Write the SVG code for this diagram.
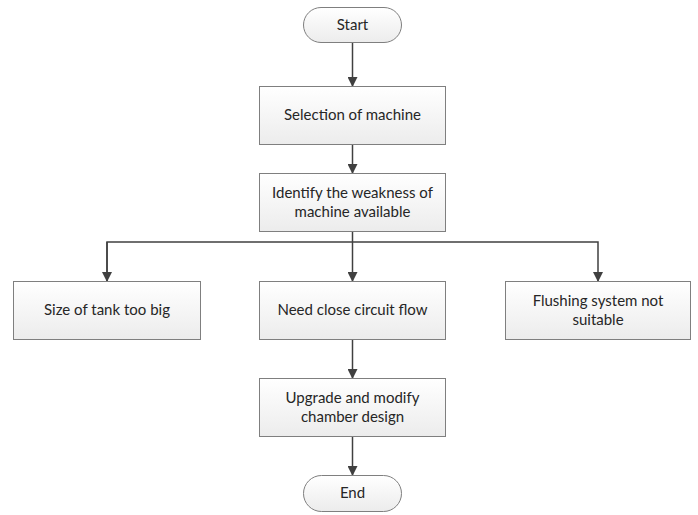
<svg xmlns="http://www.w3.org/2000/svg" width="698" height="515" viewBox="0 0 698 515">
<defs>
<linearGradient id="g" x1="0" y1="0" x2="0" y2="1">
<stop offset="0" stop-color="#ffffff"/>
<stop offset="1" stop-color="#ececec"/>
</linearGradient>
<marker id="ah" markerWidth="10" markerHeight="10" refX="9" refY="5" orient="auto" markerUnits="userSpaceOnUse">
<path d="M0,0 L10,5 L0,10 z" fill="#404040"/>
</marker>
<style>
.box{fill:url(#g);stroke:#7f7f7f;stroke-width:1}
.t{font-family:Lato,"Liberation Sans",sans-serif;font-size:15px;fill:#262626;text-anchor:middle}
.c{fill:none;stroke:#404040;stroke-width:1.5}
</style>
</defs>
<rect width="698" height="515" fill="#ffffff"/>
<g id="connectors">
<path class="c" d="M352.5,43 V86" marker-end="url(#ah)"/>
<path class="c" d="M352.5,144 V173" marker-end="url(#ah)"/>
<path class="c" d="M352.5,232 V281" marker-end="url(#ah)"/>
<path class="c" d="M107,281 V242 H598 V281" marker-end="url(#ah)"/>
<path class="c" d="M107,242 V281" marker-end="url(#ah)"/>
<path class="c" d="M352.5,339 V378" marker-end="url(#ah)"/>
<path class="c" d="M352.5,437 V475" marker-end="url(#ah)"/>
</g>
<g id="start">
<rect class="box" x="303.5" y="7.5" width="98" height="35" rx="17.5"/>
<text class="t" x="352.5" y="30">Start</text>
</g>
<g id="selection">
<rect class="box" x="259.5" y="86.5" width="186" height="58"/>
<text class="t" x="352.5" y="120">Selection of machine</text>
</g>
<g id="identify">
<rect class="box" x="259.5" y="173.5" width="186" height="58"/>
<text class="t" x="352.5" y="198">Identify the weakness of</text>
<text class="t" x="352.5" y="217">machine available</text>
</g>
<g id="tank">
<rect class="box" x="13.5" y="281.5" width="187" height="58"/>
<text class="t" x="107" y="315">Size of tank too big</text>
</g>
<g id="circuit">
<rect class="box" x="259.5" y="281.5" width="186" height="58"/>
<text class="t" x="352.5" y="315">Need close circuit flow</text>
</g>
<g id="flushing">
<rect class="box" x="505.5" y="281.5" width="185" height="58"/>
<text class="t" x="598" y="306">Flushing system not</text>
<text class="t" x="598" y="325">suitable</text>
</g>
<g id="upgrade">
<rect class="box" x="259.5" y="378.5" width="186" height="58"/>
<text class="t" x="352.5" y="403">Upgrade and modify</text>
<text class="t" x="352.5" y="422">chamber design</text>
</g>
<g id="end">
<rect class="box" x="303.5" y="475.5" width="98" height="36" rx="18"/>
<text class="t" x="352.5" y="498">End</text>
</g>
</svg>
